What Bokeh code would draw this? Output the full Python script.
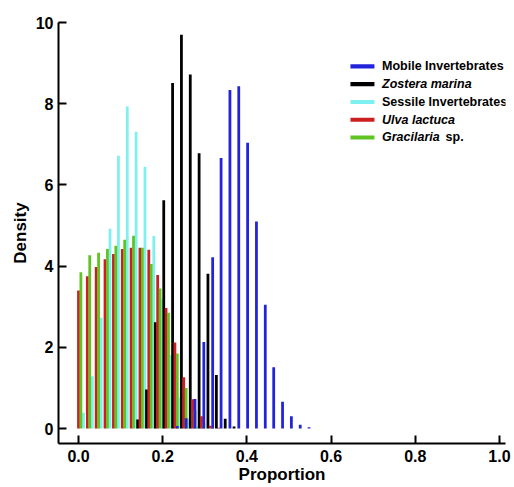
from bokeh.plotting import figure
from bokeh.models import ColumnDataSource, Range1d, FixedTicker, BoxAnnotation, Label
from bokeh.transform import dodge
from bokeh.embed import file_html
from bokeh.resources import INLINE

# ---- data ----
bins = [0.000, 0.021, 0.042, 0.063, 0.083, 0.104, 0.125, 0.146, 0.167, 0.188,
        0.208, 0.229, 0.250, 0.271, 0.292, 0.313, 0.333, 0.354, 0.375, 0.396,
        0.417, 0.438, 0.458, 0.479, 0.500, 0.521, 0.542]

mobile_invertebrates = [0, 0, 0, 0, 0, 0, 0, 0, 0, 0,
                        0, 0.06, 0.25, 0.73, 2.13, 4.22, 6.66, 8.34, 8.43, 7.04,
                        5.10, 3.05, 1.51, 0.66, 0.30, 0.09, 0.03]
zostera_marina = [0, 0, 0, 0, 0, 0, 0, 0.22, 0.96, 2.62,
                  5.62, 8.51, 9.70, 8.72, 6.78, 3.81, 1.32, 0.24, 0.05, 0,
                  0, 0, 0, 0, 0, 0, 0]
sessile_invertebrates = [0.39, 1.29, 2.73, 4.92, 6.72, 7.93, 7.31, 6.45, 4.74, 3.20,
                         1.81, 0.77, 0.24, 0.05, 0, 0, 0, 0, 0, 0,
                         0, 0, 0, 0, 0, 0, 0]
ulva_lactuca = [3.40, 3.75, 3.98, 4.17, 4.30, 4.42, 4.45, 4.45, 4.40, 3.78,
                2.97, 2.12, 1.26, 0.72, 0.30, 0.07, 0.02, 0, 0, 0,
                0, 0, 0, 0, 0, 0, 0]
gracilaria_sp = [3.85, 4.27, 4.33, 4.42, 4.50, 4.65, 4.75, 4.45, 4.05, 3.45,
                 2.85, 1.85, 1.00, 0.45, 0.12, 0.03, 0, 0, 0, 0,
                 0, 0, 0, 0, 0, 0, 0]

x_ticks = [0.0, 0.2, 0.4, 0.6, 0.8, 1.0]
x_tick_labels = ["0.0", "0.2", "0.4", "0.6", "0.8", "1.0"]
y_ticks = [0, 2, 4, 6, 8, 10]
y_tick_labels = ["0", "2", "4", "6", "8", "10"]

x_title = "Proportion"
y_title = "Density"
legend_labels = ["Mobile Invertebrates", "Zostera marina", "Sessile Invertebrates",
                 "Ulva lactuca", "Gracilaria"]
legend_italic = [False, True, False, True, True]
legend_suffix = "sp."

# ---- styling ----
FONT = "Liberation Sans"
colors = {
    "mobile": "#2323dc",
    "zostera": "#000000",
    "sessile": "#7ff0f0",
    "ulva": "#cc2020",
    "gracilaria": "#5fc421",
}
offsets = {"sessile": 0.0119, "zostera": -0.0055, "mobile": 0.0057,
           "ulva": 0.0, "gracilaria": 0.0057}

src = ColumnDataSource(dict(bin=bins, mobile=mobile_invertebrates, zostera=zostera_marina,
                            sessile=sessile_invertebrates, ulva=ulva_lactuca,
                            gracilaria=gracilaria_sp))

p = figure(width=514, height=487, output_backend="svg", toolbar_location=None,
           x_range=Range1d(-0.0475, 1.0143), y_range=Range1d(-0.369, 10.0),
           min_border_left=58, min_border_right=9, min_border_top=22, min_border_bottom=44)
p.outline_line_color = None
p.xgrid.visible = False
p.ygrid.visible = False
p.background_fill_color = "white"
p.border_fill_color = "white"

bar_w = 0.0066
for key in ["sessile", "zostera", "ulva", "gracilaria", "mobile"]:
    p.vbar(x=dodge("bin", offsets[key], range=p.x_range), top=key, bottom=0,
           width=bar_w, source=src, fill_color=colors[key], line_color=None)

for ax in (p.xaxis[0], p.yaxis[0]):
    ax.axis_line_width = 2
    ax.major_tick_line_width = 2
    ax.major_tick_in = 8
    ax.major_tick_out = 0
    ax.minor_tick_line_color = None
    ax.major_label_text_font = FONT
    ax.major_label_text_font_style = "bold"
    ax.major_label_text_font_size = "16px"
    ax.major_label_text_color = "black"
    ax.axis_label_text_font = FONT
    ax.axis_label_text_font_style = "bold"
    ax.axis_label_text_font_size = "17px"
    ax.axis_label_text_color = "black"

p.xaxis.ticker = FixedTicker(ticks=x_ticks)
p.xaxis.major_label_overrides = dict(zip(x_ticks, x_tick_labels))
p.yaxis.ticker = FixedTicker(ticks=y_ticks)
p.yaxis.major_label_overrides = dict(zip(y_ticks, y_tick_labels))
p.yaxis.axis_label = y_title
p.xaxis.axis_label = x_title
p.xaxis.major_label_standoff = 6
p.xaxis.axis_label_standoff = 0
p.yaxis.major_label_standoff = 5
p.yaxis.axis_label_standoff = 3

# ---- legend (manual, to allow mixed italic) ----
leg_keys = ["mobile", "zostera", "sessile", "ulva", "gracilaria"]
row0 = 8.92
step = 0.438
sw_left, sw_right = 0.646, 0.703
txt_x = 0.721
for i, key in enumerate(leg_keys):
    yc = row0 - i * step
    p.add_layout(BoxAnnotation(left=sw_left, right=sw_right, bottom=yc - 0.05, top=yc + 0.05,
                               fill_color=colors[key], fill_alpha=1, line_color=None))
    p.add_layout(Label(x=txt_x, y=yc, text=legend_labels[i], text_font=FONT,
                       text_font_size="12.5px",
                       text_font_style="bold italic" if legend_italic[i] else "bold",
                       text_baseline="middle", text_color="black"))
p.add_layout(Label(x=0.872, y=row0 - 4 * step, text=legend_suffix, text_font=FONT,
                   text_font_size="12.5px", text_font_style="bold",
                   text_baseline="middle", text_color="black"))

open("out.html", "w").write(file_html(p, INLINE))
